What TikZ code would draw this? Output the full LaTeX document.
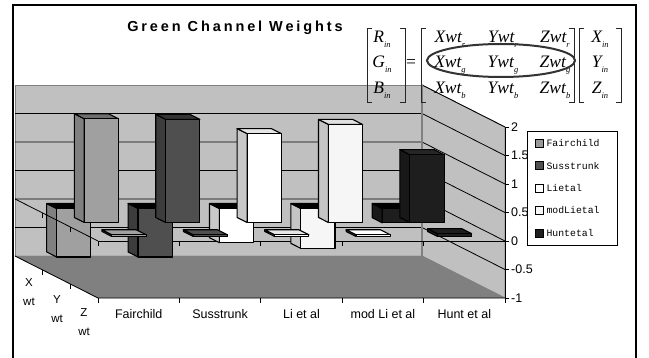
\documentclass[tikz,border=0pt]{standalone}
\usepackage{fontspec}
\setmainfont{Liberation Sans}
\newfontfamily\legendfont{Liberation Mono}
\newfontfamily\eqnfont{Liberation Serif}
\newfontfamily\titlefont[LetterSpace=20]{Liberation Sans}
\usetikzlibrary{positioning}

\definecolor{wallgray}{HTML}{C0C0C0}
\definecolor{floorgray}{HTML}{808080}
\definecolor{fairfront}{HTML}{A0A0A0}
\definecolor{fairside}{HTML}{808080}
\definecolor{fairtop}{HTML}{6E6E6E}
\definecolor{sussfront}{HTML}{4F4F4F}
\definecolor{susside}{HTML}{3C3C3C}
\definecolor{sustop}{HTML}{333333}
\definecolor{lifront}{HTML}{FFFFFF}
\definecolor{liside}{HTML}{C8C8C8}
\definecolor{litop}{HTML}{E6E6E6}
\definecolor{modfront}{HTML}{F6F6F6}
\definecolor{modside}{HTML}{C4C4C4}
\definecolor{modtop}{HTML}{E0E0E0}
\definecolor{huntfront}{HTML}{1E1E1E}
\definecolor{huntside}{HTML}{181818}
\definecolor{hunttop}{HTML}{262626}

% one column: category, depth of its front face, value, front/side/top colours
\newcommand{\wtbar}[6]{%
  \pgfmathsetmacro{\barlo}{min(0,#3)}%
  \pgfmathsetmacro{\barhi}{max(0,#3)}%
  \pgfmathsetmacro{\barca}{#1+0.28}%
  \pgfmathsetmacro{\barcb}{#1+0.70}%
  \pgfmathsetmacro{\barda}{#2}%
  \pgfmathsetmacro{\bardb}{#2+0.12}%
  \filldraw[barline, fill=#5] (\barca,\barlo,\barda) -- (\barca,\barlo,\bardb) -- (\barca,\barhi,\bardb) -- (\barca,\barhi,\barda) -- cycle;
  \filldraw[barline, fill=#6] (\barca,\barhi,\barda) -- (\barcb,\barhi,\barda) -- (\barcb,\barhi,\bardb) -- (\barca,\barhi,\bardb) -- cycle;
  \filldraw[barline, fill=#4] (\barca,\barlo,\barda) -- (\barcb,\barlo,\barda) -- (\barcb,\barhi,\barda) -- (\barca,\barhi,\barda) -- cycle;
}
\newcommand{\eqsub}[2]{#1\raisebox{-0.26em}{\fontsize{8.5}{8.5}\selectfont #2}}

\begin{document}
\begin{tikzpicture}[x=1pt, y=-1pt,
    barline/.style={draw=black, line width=1.1pt, line join=round},
    wall/.style={fill=wallgray, draw=floorgray, line width=0.8pt},
    gridline/.style={draw=black, line width=0.8pt},
    tickmark/.style={draw=black, line width=0.8pt},
    axislbl/.style={inner sep=0pt, font=\fontsize{12.5}{12.5}\selectfont},
    depthlbl/.style={inner sep=0pt, anchor=base, font=\fontsize{11.5}{11.5}\selectfont},
    titletxt/.style={inner sep=0pt, anchor=base, font=\titlefont\bfseries\fontsize{14.5}{14.5}\selectfont},
    eqtxt/.style={inner sep=0pt, anchor=base, font=\eqnfont\itshape\fontsize{17.5}{17.5}\selectfont},
    bracket/.style={draw=black!85, line width=0.8pt},
    ring/.style={draw=black!80, line width=2pt},
    keysq/.style={draw=black, line width=0.8pt, minimum size=8pt, inner sep=0pt},
    keytxt/.style={inner sep=0pt, font=\legendfont\fontsize{9.8}{9.8}\selectfont},
]
\path[use as bounding box, fill=white] (0,0) rectangle (649,358);
\draw[line width=1.2pt] (13,358) -- (13,5) -- (636,5) -- (636,358);

\node[titletxt] (title) at (235,32) {Green Channel Weights};

\begin{scope}[shift={(98,241)}, x={(81.4pt,0pt)}, y={(0pt,57pt)}, z={(-83pt,42pt)}]
% walls and floor
\filldraw[wall] (0,-1,1) -- (5,-1,1) -- (5,2,1) -- (0,2,1) -- cycle;
\filldraw[wall] (5,-1,1) -- (5,-1,0) -- (5,2,0) -- (5,2,1) -- cycle;
\filldraw[fill=floorgray, draw=floorgray] (0,-1,0) -- (5,-1,0) -- (5,-1,1) -- (0,-1,1) -- cycle;
\draw[gridline] (0,1.5,1) -- (5,1.5,1) -- (5,1.5,0);
\draw[gridline] (0,1,1) -- (5,1,1) -- (5,1,0);
\draw[gridline] (0,0.5,1) -- (5,0.5,1) -- (5,0.5,0);
\draw[gridline] (0,0,1) -- (5,0,1) -- (5,0,0);
\draw[gridline] (0,-0.5,1) -- (5,-0.5,1) -- (5,-0.5,0);
\draw[gridline] (5,2,1) -- (5,2,0);
\draw[draw=floorgray, line width=1.5pt] (5,-1,1) -- (5,2,1);

% value axis
\draw[gridline] (5,-1,0) -- (5,2,0);
\draw[tickmark] (5,2,0) -- ++(4pt,0pt);
\draw[tickmark] (5,1.5,0) -- ++(4pt,0pt);
\draw[tickmark] (5,1,0) -- ++(4pt,0pt);
\draw[tickmark] (5,0.5,0) -- ++(4pt,0pt);
\draw[tickmark] (5,0,0) -- ++(4pt,0pt);
\draw[tickmark] (5,-0.5,0) -- ++(4pt,0pt);
\draw[tickmark] (5,-1,0) -- ++(4pt,0pt);
\node[axislbl, right=6pt] (valTwo) at (5,2,0) {2};
\node[axislbl, right=6pt] (valOneHalf) at (5,1.5,0) {1.5};
\node[axislbl, right=6pt] (valOne) at (5,1,0) {1};
\node[axislbl, right=6pt] (valHalf) at (5,0.5,0) {0.5};
\node[axislbl, right=6pt] (valZero) at (5,0,0) {0};
\node[axislbl, right=6pt] (valMinusHalf) at (5,-0.5,0) {-0.5};
\node[axislbl, right=6pt] (valMinusOne) at (5,-1,0) {-1};

% floor edges
\draw[gridline] (0,-1,1) -- (0,-1,0) -- (5,-1,0);
\draw[tickmark] (0,-1,2/3) -- ++(0pt,-5pt);
\draw[tickmark] (0,-1,1/3) -- ++(0pt,-5pt);
\draw[tickmark] (0,-1,0) -- ++(0pt,-5pt);
\draw[tickmark] (1,-1,0) -- ++(0pt,-5pt);
\draw[tickmark] (2,-1,0) -- ++(0pt,-5pt);
\draw[tickmark] (3,-1,0) -- ++(0pt,-5pt);
\draw[tickmark] (4,-1,0) -- ++(0pt,-5pt);
\draw[tickmark] (5,-1,0) -- ++(0pt,-5pt);
\node[axislbl, below=11pt] (catFair) at (0.5,-1,0) {Fairchild};
\node[axislbl, below=11pt] (catSuss) at (1.5,-1,0) {Susstrunk};
\node[axislbl, below=11pt] (catLi) at (2.5,-1,0) {Li et al};
\node[axislbl, below=11pt] (catModLi) at (3.5,-1,0) {mod Li et al};
\node[axislbl, below=11pt] (catHunt) at (4.5,-1,0) {Hunt et al};

% zero line along the front
\draw[gridline] (0,0,0) -- (5,0,0);
\draw[tickmark] (0,0,0) -- ++(0pt,-5pt);
\draw[tickmark] (1,0,0) -- ++(0pt,-5pt);
\draw[tickmark] (2,0,0) -- ++(0pt,-5pt);
\draw[tickmark] (3,0,0) -- ++(0pt,-5pt);
\draw[tickmark] (4,0,0) -- ++(0pt,-5pt);

% X wt row
\wtbar{0}{0.773}{-0.85}{fairfront}{fairside}{black}
\wtbar{1}{0.773}{-0.85}{sussfront}{susside}{black}
\wtbar{2}{0.773}{-0.60}{lifront}{liside}{black}
\wtbar{3}{0.773}{-0.70}{modfront}{modside}{black}
\wtbar{4}{0.773}{-0.25}{huntfront}{huntside}{black}
% Y wt row
\wtbar{0}{0.44}{1.82}{fairfront}{fairside}{fairtop}
\wtbar{1}{0.44}{1.81}{sussfront}{susside}{sustop}
\wtbar{2}{0.44}{1.56}{lifront}{liside}{litop}
\wtbar{3}{0.44}{1.72}{modfront}{modside}{modtop}
\wtbar{4}{0.44}{1.19}{huntfront}{huntside}{hunttop}
% Z wt row
\wtbar{0}{0.107}{0.03}{fairfront}{fairside}{fairfront}
\wtbar{1}{0.107}{0.03}{sussfront}{susside}{sussfront}
\wtbar{2}{0.107}{0.03}{lifront}{liside}{litop}
\wtbar{3}{0.107}{0.03}{modfront}{modside}{white}
\wtbar{4}{0.107}{0.05}{huntfront}{huntside}{huntfront}

% zero line along the depth
\draw[gridline] (0,0,1) -- (0,0,0);
\draw[tickmark] (0,0,2/3) -- ++(0pt,-5pt);
\draw[tickmark] (0,0,1/3) -- ++(0pt,-5pt);
\end{scope}

\node[depthlbl] (rowX) at (29,287) {X};
\node[depthlbl] (rowXwt) at (29,306) {wt};
\node[depthlbl] (rowY) at (57,304) {Y};
\node[depthlbl] (rowYwt) at (57,323) {wt};
\node[depthlbl] (rowZ) at (84,317) {Z};
\node[depthlbl] (rowZwt) at (84,336) {wt};

% legend
\node[draw=black, line width=0.8pt, fill=white, minimum width=90pt, minimum height=114pt] (legend) at (572,188) {};
\node[keysq, fill=fairfront!95!black] (sqFair) at (539,143) {};
\node[keysq, fill=sussfront] (sqSuss) at (539,165.5) {};
\node[keysq, fill=lifront] (sqLi) at (539,188) {};
\node[keysq, fill=modfront] (sqModLi) at (539,210.5) {};
\node[keysq, fill=huntfront] (sqHunt) at (539,233) {};
\node[keytxt, right=3pt of sqFair] (keyFair) {Fairchild};
\node[keytxt, right=3pt of sqSuss] (keySuss) {Susstrunk};
\node[keytxt, right=3pt of sqLi] (keyLi) {Lietal};
\node[keytxt, right=3pt of sqModLi] (keyModLi) {modLietal};
\node[keytxt, right=3pt of sqHunt] (keyHunt) {Huntetal};

% the transform, green row ringed
\node[eqtxt] (Rin) at (382,43) {\eqsub{R}{in}};
\node[eqtxt] (Gin) at (382,68) {\eqsub{G}{in}};
\node[eqtxt] (Bin) at (382,94) {\eqsub{B}{in}};
\node[eqtxt, font=\eqnfont\fontsize{17.5}{17.5}\selectfont] (eq) at (411,68) {=};
\node[eqtxt] (Xr) at (450,43) {\eqsub{Xwt}{r}};
\node[eqtxt] (Yr) at (503,43) {\eqsub{Ywt}{r}};
\node[eqtxt] (Zr) at (555,43) {\eqsub{Zwt}{r}};
\node[eqtxt] (Xg) at (450,68) {\eqsub{Xwt}{g}};
\node[eqtxt] (Yg) at (503,68) {\eqsub{Ywt}{g}};
\node[eqtxt] (Zg) at (555,68) {\eqsub{Zwt}{g}};
\node[eqtxt] (Xb) at (450,94) {\eqsub{Xwt}{b}};
\node[eqtxt] (Yb) at (503,94) {\eqsub{Ywt}{b}};
\node[eqtxt] (Zb) at (555,94) {\eqsub{Zwt}{b}};
\node[eqtxt] (Xin) at (600,43) {\eqsub{X}{in}};
\node[eqtxt] (Yin) at (600,68) {\eqsub{Y}{in}};
\node[eqtxt] (Zin) at (600,94) {\eqsub{Z}{in}};
\draw[bracket] (372,28) -- (367,28) -- (367,102) -- (372,102);
\draw[bracket] (400,28) -- (405,28) -- (405,102) -- (400,102);
\draw[bracket] (426,28) -- (421,28) -- (421,102) -- (426,102);
\draw[bracket] (569,28) -- (574,28) -- (574,102) -- (569,102);
\draw[bracket] (584,28) -- (579,28) -- (579,102) -- (584,102);
\draw[bracket] (616,28) -- (621,28) -- (621,102) -- (616,102);
\draw[ring] (501,60.5) ellipse [x radius=74, y radius=16.5];
\end{tikzpicture}
\end{document}
